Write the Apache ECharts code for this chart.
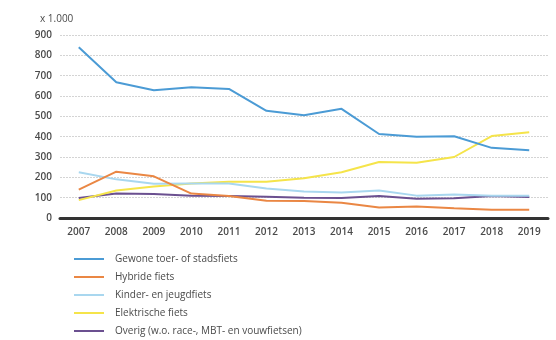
<!DOCTYPE html>
<html>
<head>
<meta charset="utf-8">
<script src="https://cdn.jsdelivr.net/npm/echarts@6/dist/echarts.min.js"></script>
<style>
  html, body { margin: 0; padding: 0; background: #fff; }
  #chart { width: 556px; height: 340px; }
</style>
</head>
<body>
<div id="chart"></div>
<script>
// jaren en verkochte fietsen (x 1.000)
var years = ["2007", "2008", "2009", "2010", "2011", "2012", "2013", "2014", "2015", "2016", "2017", "2018", "2019"];
var gewone = [840, 668, 628, 643, 635, 527, 505, 537, 413, 400, 402, 345, 333];
var hybride = [140, 228, 205, 120, 108, 85, 83, 75, 52, 57, 48, 40, 40];
var kinder = [225, 190, 168, 170, 170, 145, 130, 125, 135, 110, 115, 110, 110];
var elektrisch = [88, 135, 155, 170, 178, 178, 195, 225, 275, 272, 300, 403, 422];
var overig = [98, 120, 118, 110, 108, 105, 100, 98, 108, 95, 97, 108, 103];

var names = ["Gewone toer- of stadsfiets", "Hybride fiets", "Kinder- en jeugdfiets", "Elektrische fiets", "Overig (w.o. race-, MBT- en vouwfietsen)"];
var colors = ["#4b9bd5", "#ea8744", "#a9d7ef", "#f5e44a", "#6b5090"];
var values = [gewone, hybride, kinder, elektrisch, overig];

var chart = echarts.init(document.getElementById("chart"));

var series = [];
for (var i = 0; i < names.length; i++) {
    series.push({
        name: names[i],
        type: "line",
        symbol: "none",
        data: values[i],
        color: colors[i],
        lineStyle: { width: 2, color: colors[i] },
        z: 10 - i
    });
}

var textColor = "#4a4a4a";
var font = "Open Sans";

chart.setOption({
    animation: false,
    textStyle: { fontFamily: font },
    title: {
        text: "x 1.000",
        left: 35,
        top: 9,
        textStyle: { fontSize: 10, fontWeight: "normal", color: textColor, fontFamily: font }
    },
    grid: { left: 60, right: 8, top: 35, bottom: 122 },
    legend: {
        orient: "vertical",
        left: 68,
        top: 249,
        height: 90,
        itemWidth: 30,
        itemHeight: 10,
        itemGap: 8,
        data: names,
        itemStyle: { opacity: 0 },
        lineStyle: { width: 2 },
        textStyle: { fontSize: 10, lineHeight: 10, color: textColor, fontFamily: font, padding: [0, 0, 0, 6] }
    },
    xAxis: {
        type: "category",
        data: years,
        boundaryGap: true,
        axisLine: { lineStyle: { color: "#333", width: 3 } },
        axisTick: { show: false },
        axisLabel: { fontSize: 10, color: textColor, margin: 9, fontWeight: 600 }
    },
    yAxis: {
        type: "value",
        min: 0,
        max: 900,
        interval: 100,
        axisLine: { show: false },
        axisTick: { show: false },
        axisLabel: { fontSize: 10, color: textColor, margin: 8, fontWeight: 600 },
        splitLine: { lineStyle: { color: "#d4d4d4", type: [2, 1], width: 1 } }
    },
    series: series
});
</script>
</body>
</html>
